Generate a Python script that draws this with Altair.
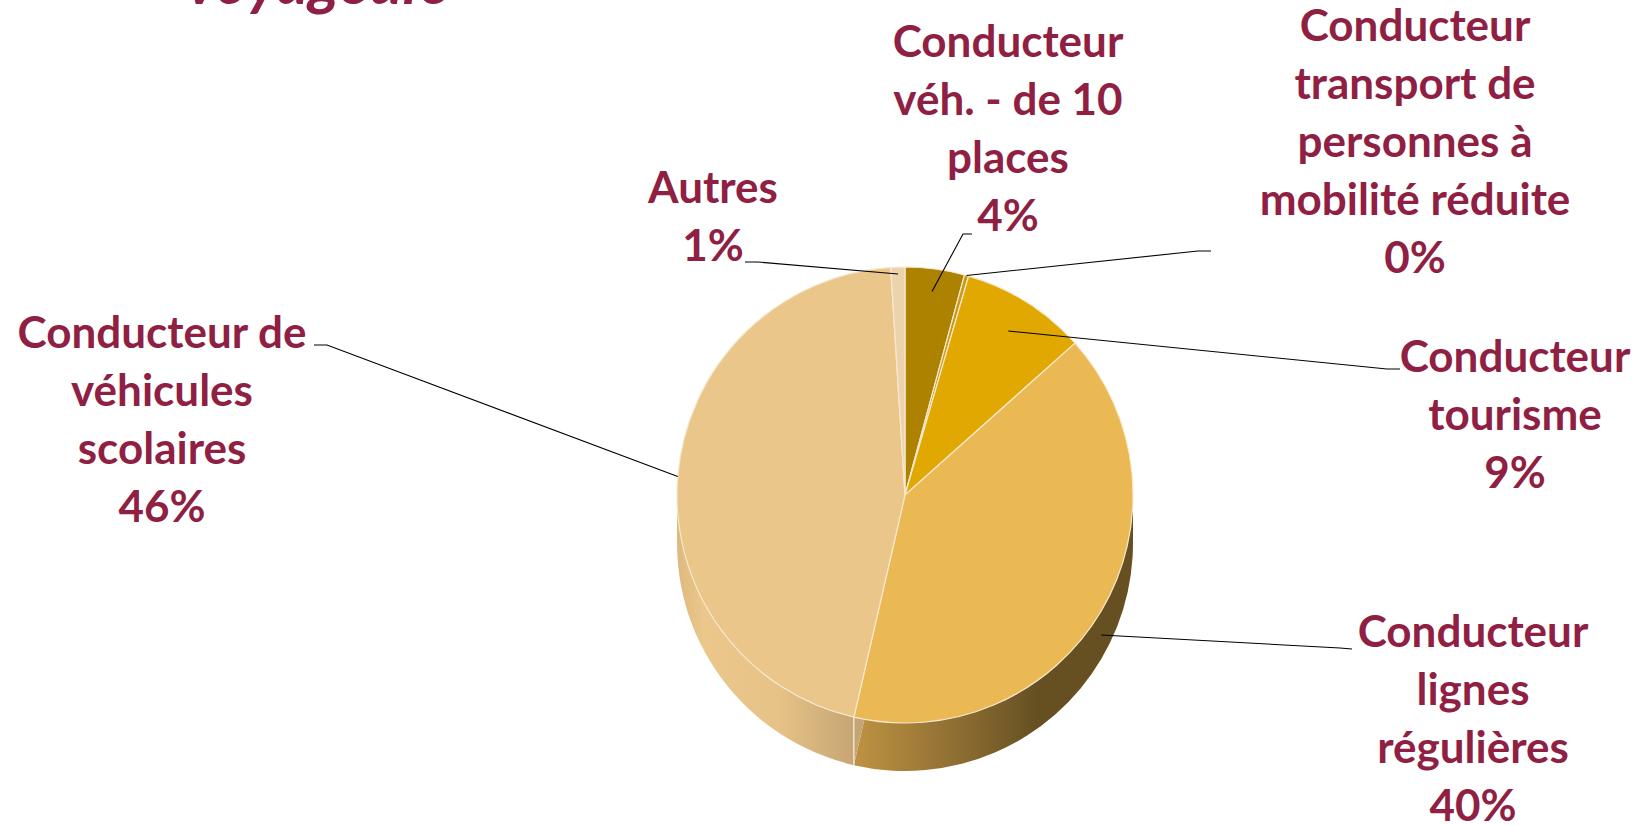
import math
import altair as alt
import pandas as pd

# ---- data ----
keys = ["veh10", "pmr", "tourisme", "lignes", "scolaires", "autres"]
labels = [
    "Conducteur\nvéh. - de 10\nplaces\n4%",
    "Conducteur\ntransport de\npersonnes à\nmobilité réduite\n0%",
    "Conducteur\ntourisme\n9%",
    "Conducteur\nlignes\nrégulières\n40%",
    "Conducteur de\nvéhicules\nscolaires\n46%",
    "Autres\n1%",
]
values = [4.2, 0.3, 8.9, 40.2, 45.4, 1.0]
title_text = "voyageurs"

# ---- styles ----
colors = ["#AD8200", "#C99A1E", "#E0A800", "#EBB953", "#EBC68A", "#EDD2AE"]
text_color = "#8F1F43"
FONT = "Lato"

# ---- layout (pixels) ----
W, H = 1641, 826
cx, cy, R, D = 905, 495, 228, 48
label_pos = {  # centre x, first-line centre y
    "veh10": (1008, 44),
    "pmr": (1415, 28),
    "tourisme": (1515, 359),
    "lignes": (1473, 634),
    "scolaires": (162, 335),
    "autres": (713, 190),
}
ticks = {  # leader start (near label) and elbow
    "veh10": [(972, 234), (963, 234)],
    "pmr": [(1211, 251), (1198, 251)],
    "tourisme": [(1400, 369), (1387, 369)],
    "lignes": [(1352, 649), (1340, 648)],
    "scolaires": [(314, 345), (327, 345)],
    "autres": [(745, 262), (758, 262)],
}
leader_r = {"veh10": 0.9, "pmr": 1.0, "tourisme": 0.85, "lignes": 1.0, "scolaires": 1.0, "autres": 0.97}

df = pd.DataFrame({"k": keys, "v": values, "o": list(range(len(keys))), "label": labels})
df["lx"] = [label_pos[k][0] for k in keys]
df["ly"] = [label_pos[k][1] for k in keys]

total = sum(values)
cum = []
acc = 0.0
for v in values:
    cum.append((acc, acc + v))
    acc += v


def edge(frac, r, dy=0.0):
    a = 2 * math.pi * frac
    return cx + r * math.sin(a), cy - r * math.cos(a) + dy


rows = []
for i, k in enumerate(keys):
    mid = (cum[i][0] + cum[i][1]) / 2 / total
    (x0, y0), (x1, y1) = ticks[k]
    px, py = edge(mid, R * leader_r[k], D * 0.5 if k == "lignes" else 0.0)
    for j, (x, y) in enumerate([(x0, y0), (x1, y1), (px, py)]):
        rows.append({"k": k, "j": j, "x": x, "y": y})
lines_df = pd.DataFrame(rows)

# split between the visible side faces (end of "lignes" slice)
split_frac = cum[3][1] / total
xs, ys = edge(split_frac, R)

grad_lignes = {
    "gradient": "linear", "x1": 0, "x2": 1, "y1": 0, "y2": 0,
    "stops": [
        {"offset": 0.0, "color": "#BE9342"},
        {"offset": 0.35, "color": "#917034"},
        {"offset": 0.65, "color": "#665022"},
        {"offset": 1.0, "color": "#665022"},
    ],
}
grad_scol = {
    "gradient": "linear", "x1": 0, "x2": 1, "y1": 0, "y2": 0,
    "stops": [
        {"offset": 0.0, "color": "#DDB97F"},
        {"offset": 0.12, "color": "#EBC78B"},
        {"offset": 0.45, "color": "#E6C287"},
        {"offset": 0.78, "color": "#C6A574"},
        {"offset": 1.0, "color": "#C2A272"},
    ],
}
grad_scol_rect = {
    "gradient": "linear", "x1": 0, "x2": 1, "y1": 0, "y2": 0,
    "stops": [
        {"offset": 0.0, "color": "#DDB97F"},
        {"offset": 0.15, "color": "#EBC78B"},
        {"offset": 0.58, "color": "#E6C287"},
        {"offset": 1.0, "color": "#C6A574"},
    ],
}

base = alt.Chart(df)
theta = alt.Theta("v:Q", stack=True)
order = alt.Order("o:Q")

side_lignes = base.mark_arc(outerRadius=R, strokeWidth=0).encode(
    theta=theta, order=order,
    fill=alt.condition("datum.k === 'lignes'", alt.value(grad_lignes), alt.value("transparent")),
    x=alt.value(cx), y=alt.value(cy + D),
)
side_scol = base.mark_arc(outerRadius=R, strokeWidth=0).encode(
    theta=theta, order=order,
    fill=alt.condition("datum.k === 'scolaires'", alt.value(grad_scol), alt.value("transparent")),
    x=alt.value(cx), y=alt.value(cy + D),
)

rect_df = pd.DataFrame({"x0": [cx - R], "x1": [xs]})
rect_df2 = pd.DataFrame({"x0": [xs], "x1": [cx + R]})
rect_left = alt.Chart(rect_df).mark_rect(fill=grad_scol_rect).encode(
    x=alt.X("x0:Q", scale=None, axis=None), x2="x1:Q",
    y=alt.value(cy), y2=alt.value(cy + D),
)
rect_right = alt.Chart(rect_df2).mark_rect(fill=grad_lignes).encode(
    x=alt.X("x0:Q", scale=None, axis=None), x2="x1:Q",
    y=alt.value(cy), y2=alt.value(cy + D),
)
seam_df = pd.DataFrame({"x": [xs]})
seam = alt.Chart(seam_df).mark_rule(color="#FFFFFF", strokeWidth=1).encode(
    x=alt.X("x:Q", scale=None, axis=None),
    y=alt.value(ys), y2=alt.value(ys + D),
)

top = base.mark_arc(outerRadius=R, stroke="#F6E9CF", strokeWidth=1.2).encode(
    theta=theta, order=order,
    fill=alt.Fill("k:N", scale=alt.Scale(domain=keys, range=colors), legend=None),
    x=alt.value(cx), y=alt.value(cy),
)

leaders = alt.Chart(lines_df).mark_line(color="#000000", strokeWidth=1.1).encode(
    x=alt.X("x:Q", scale=None, axis=None),
    y=alt.Y("y:Q", scale=None, axis=None),
    detail="k:N", order="j:Q",
)

texts = base.mark_text(
    font=FONT, fontSize=44, fontWeight="bold", color=text_color,
    align="center", baseline="middle", lineBreak="\n", lineHeight=58,
).encode(
    x=alt.X("lx:Q", scale=None, axis=None),
    y=alt.Y("ly:Q", scale=None, axis=None),
    text="label:N",
)

title_df = pd.DataFrame({"t": [title_text]})
title = alt.Chart(title_df).mark_text(
    font=FONT, fontSize=62, fontWeight="bold", fontStyle="italic", color=text_color,
    align="left", baseline="alphabetic",
).encode(x=alt.value(186), y=alt.value(4), text="t:N")

chart = alt.layer(
    side_lignes, side_scol, rect_left, rect_right, seam, top, leaders, texts, title
).properties(
    width=W, height=H, padding=0, autosize=alt.AutoSizeParams(type="none"),
    background="#FFFFFF",
).configure_view(stroke=None)

chart.save("out.html", embed_options={"renderer": "svg", "actions": False})
